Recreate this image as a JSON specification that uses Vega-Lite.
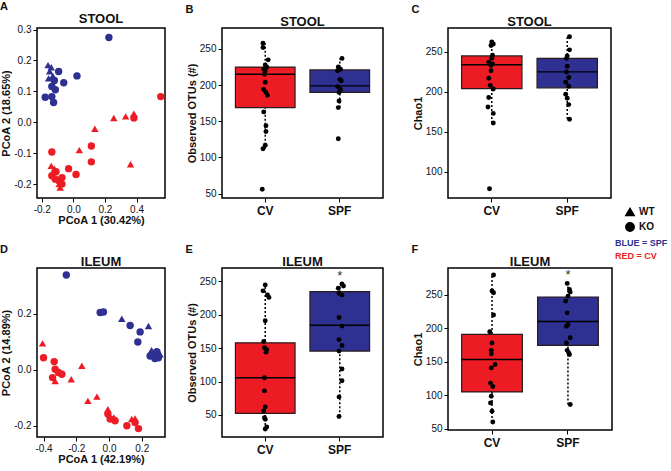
{
  "$schema": "https://vega.github.io/schema/vega-lite/v6.json",
  "padding": {"left": 0, "top": 0, "right": 0, "bottom": 0},
  "background": "white",
  "config": {
    "font": "Liberation Sans",
    "view": {"stroke": "black", "strokeWidth": 1.5},
    "axis": {"grid": false, "domain": false, "tickSize": 4, "tickColor": "black", "labelColor": "#111", "labelFontSize": 10, "titleFontSize": 11, "titleFontWeight": "bold", "titleColor": "#111", "labelPadding": 2, "titlePadding": 2},
    "axisX": {"titlePadding": 0},
    "title": {"fontSize": 13, "fontWeight": "bold", "offset": -1, "color": "#111"},
    "legend": {"labelFont": "Liberation Sans", "labelFontWeight": "bold", "labelFontSize": 10, "labelColor": "#111"}
  },
  "datasets": {
    "pA": [
      {"g": "SPF", "t": "KO", "pc1": 0.225, "pc2": 0.274},
      {"g": "SPF", "t": "KO", "pc1": 0.023, "pc2": 0.150},
      {"g": "SPF", "t": "KO", "pc1": -0.093, "pc2": 0.164},
      {"g": "SPF", "t": "KO", "pc1": -0.061, "pc2": 0.128},
      {"g": "SPF", "t": "KO", "pc1": -0.114, "pc2": 0.105},
      {"g": "SPF", "t": "KO", "pc1": -0.178, "pc2": 0.081},
      {"g": "SPF", "t": "KO", "pc1": -0.136, "pc2": 0.083},
      {"g": "SPF", "t": "KO", "pc1": -0.125, "pc2": 0.064},
      {"g": "SPF", "t": "KO", "pc1": -0.136, "pc2": 0.116},
      {"g": "SPF", "t": "KO", "pc1": -0.12, "pc2": 0.135},
      {"g": "SPF", "t": "WT", "pc1": -0.16, "pc2": 0.185},
      {"g": "SPF", "t": "WT", "pc1": -0.14, "pc2": 0.178},
      {"g": "SPF", "t": "WT", "pc1": -0.157, "pc2": 0.142},
      {"g": "SPF", "t": "WT", "pc1": -0.13, "pc2": 0.15},
      {"g": "SPF", "t": "WT", "pc1": -0.15, "pc2": 0.165},
      {"g": "CV", "t": "KO", "pc1": 0.553, "pc2": 0.083},
      {"g": "CV", "t": "KO", "pc1": 0.383, "pc2": 0.014},
      {"g": "CV", "t": "KO", "pc1": 0.114, "pc2": -0.077},
      {"g": "CV", "t": "KO", "pc1": 0.114, "pc2": -0.128},
      {"g": "CV", "t": "KO", "pc1": -0.136, "pc2": -0.096},
      {"g": "CV", "t": "KO", "pc1": -0.03, "pc2": -0.150},
      {"g": "CV", "t": "KO", "pc1": 0.017, "pc2": -0.169},
      {"g": "CV", "t": "KO", "pc1": -0.136, "pc2": -0.173},
      {"g": "CV", "t": "KO", "pc1": -0.114, "pc2": -0.184},
      {"g": "CV", "t": "KO", "pc1": -0.072, "pc2": -0.179},
      {"g": "CV", "t": "KO", "pc1": -0.072, "pc2": -0.200},
      {"g": "CV", "t": "KO", "pc1": -0.09, "pc2": -0.19},
      {"g": "CV", "t": "KO", "pc1": -0.11, "pc2": -0.16},
      {"g": "CV", "t": "WT", "pc1": 0.256, "pc2": 0.014},
      {"g": "CV", "t": "WT", "pc1": 0.331, "pc2": 0.019},
      {"g": "CV", "t": "WT", "pc1": 0.383, "pc2": 0.028},
      {"g": "CV", "t": "WT", "pc1": 0.136, "pc2": -0.021},
      {"g": "CV", "t": "WT", "pc1": 0.038, "pc2": -0.090},
      {"g": "CV", "t": "WT", "pc1": 0.362, "pc2": -0.136},
      {"g": "CV", "t": "WT", "pc1": -0.14, "pc2": -0.141},
      {"g": "CV", "t": "WT", "pc1": -0.12, "pc2": -0.15},
      {"g": "CV", "t": "WT", "pc1": -0.083, "pc2": -0.211},
      {"g": "CV", "t": "WT", "pc1": -0.09, "pc2": -0.2}
    ],
    "pD": [
      {"g": "SPF", "t": "KO", "pc1": -0.261, "pc2": 0.338},
      {"g": "SPF", "t": "KO", "pc1": -0.054, "pc2": 0.204},
      {"g": "SPF", "t": "KO", "pc1": -0.034, "pc2": 0.206},
      {"g": "SPF", "t": "KO", "pc1": 0.129, "pc2": 0.158},
      {"g": "SPF", "t": "KO", "pc1": 0.19, "pc2": 0.135},
      {"g": "SPF", "t": "KO", "pc1": 0.176, "pc2": 0.099},
      {"g": "SPF", "t": "KO", "pc1": 0.272, "pc2": 0.055},
      {"g": "SPF", "t": "KO", "pc1": 0.292, "pc2": 0.064},
      {"g": "SPF", "t": "KO", "pc1": 0.251, "pc2": 0.049},
      {"g": "SPF", "t": "KO", "pc1": 0.302, "pc2": 0.043},
      {"g": "SPF", "t": "KO", "pc1": 0.28, "pc2": 0.04},
      {"g": "SPF", "t": "WT", "pc1": 0.078, "pc2": 0.182},
      {"g": "SPF", "t": "WT", "pc1": 0.241, "pc2": 0.156},
      {"g": "SPF", "t": "WT", "pc1": 0.312, "pc2": 0.055},
      {"g": "SPF", "t": "WT", "pc1": 0.26, "pc2": 0.07},
      {"g": "CV", "t": "WT", "pc1": -0.406, "pc2": 0.094},
      {"g": "CV", "t": "WT", "pc1": -0.329, "pc2": -0.04},
      {"g": "CV", "t": "WT", "pc1": -0.166, "pc2": 0.014},
      {"g": "CV", "t": "WT", "pc1": -0.231, "pc2": -0.034},
      {"g": "CV", "t": "WT", "pc1": -0.129, "pc2": -0.111},
      {"g": "CV", "t": "WT", "pc1": -0.074, "pc2": -0.096},
      {"g": "CV", "t": "WT", "pc1": -0.007, "pc2": -0.141},
      {"g": "CV", "t": "WT", "pc1": 0.03, "pc2": -0.17},
      {"g": "CV", "t": "WT", "pc1": 0.139, "pc2": -0.176},
      {"g": "CV", "t": "WT", "pc1": 0.159, "pc2": -0.174},
      {"g": "CV", "t": "KO", "pc1": -0.4, "pc2": 0.043},
      {"g": "CV", "t": "KO", "pc1": -0.335, "pc2": 0.029},
      {"g": "CV", "t": "KO", "pc1": -0.329, "pc2": 0.002},
      {"g": "CV", "t": "KO", "pc1": -0.345, "pc2": -0.028},
      {"g": "CV", "t": "KO", "pc1": -0.309, "pc2": -0.01},
      {"g": "CV", "t": "KO", "pc1": -0.288, "pc2": -0.016},
      {"g": "CV", "t": "KO", "pc1": -0.007, "pc2": -0.158},
      {"g": "CV", "t": "KO", "pc1": 0.007, "pc2": -0.176},
      {"g": "CV", "t": "KO", "pc1": 0.037, "pc2": -0.182},
      {"g": "CV", "t": "KO", "pc1": 0.109, "pc2": -0.2},
      {"g": "CV", "t": "KO", "pc1": 0.159, "pc2": -0.188},
      {"g": "CV", "t": "KO", "pc1": 0.18, "pc2": -0.21}
    ],
    "bB": [
      {"g": "CV", "lo": 112, "q1": 169, "med": 215, "q3": 225, "hi": 258, "star": null, "sig": ""},
      {"g": "SPF", "lo": 169, "q1": 190, "med": 199, "q3": 221, "hi": 237, "star": null, "sig": ""}
    ],
    "bC": [
      {"g": "CV", "lo": 161, "q1": 204, "med": 234, "q3": 245, "hi": 263, "star": null, "sig": ""},
      {"g": "SPF", "lo": 166, "q1": 205, "med": 225, "q3": 242, "hi": 269, "star": null, "sig": ""}
    ],
    "bE": [
      {"g": "CV", "lo": 29, "q1": 52.5, "med": 105.8, "q3": 158, "hi": 245, "star": null, "sig": ""},
      {"g": "SPF", "lo": 48, "q1": 145.6, "med": 184.3, "q3": 234.7, "hi": 246, "star": 258, "sig": "*"}
    ],
    "bF": [
      {"g": "CV", "lo": 60, "q1": 104.9, "med": 153.3, "q3": 190.7, "hi": 279.5, "star": null, "sig": ""},
      {"g": "SPF", "lo": 86, "q1": 174.3, "med": 210, "q3": 246.7, "hi": 267, "star": 279, "sig": "*"}
    ],
    "sB": [
      {"g": "CV", "v": 258, "jx": 0.97}, {"g": "CV", "v": 252, "jx": 0.97}, {"g": "CV", "v": 235, "jx": 1.04},
      {"g": "CV", "v": 228, "jx": 1.0}, {"g": "CV", "v": 225, "jx": 1.02}, {"g": "CV", "v": 222, "jx": 0.98},
      {"g": "CV", "v": 220, "jx": 1.0}, {"g": "CV", "v": 215, "jx": 0.99}, {"g": "CV", "v": 204, "jx": 1.0},
      {"g": "CV", "v": 194, "jx": 0.98}, {"g": "CV", "v": 190, "jx": 1.01}, {"g": "CV", "v": 186, "jx": 1.03},
      {"g": "CV", "v": 163, "jx": 0.98}, {"g": "CV", "v": 144, "jx": 1.01}, {"g": "CV", "v": 136, "jx": 1.01},
      {"g": "CV", "v": 117, "jx": 1.0}, {"g": "CV", "v": 112, "jx": 0.97}, {"g": "CV", "v": 56, "jx": 0.96},
      {"g": "SPF", "v": 237, "jx": 2.03}, {"g": "SPF", "v": 225, "jx": 1.98}, {"g": "SPF", "v": 222, "jx": 2.01},
      {"g": "SPF", "v": 220, "jx": 1.97}, {"g": "SPF", "v": 208, "jx": 2.0}, {"g": "SPF", "v": 206, "jx": 2.02},
      {"g": "SPF", "v": 198, "jx": 1.97}, {"g": "SPF", "v": 194, "jx": 2.01}, {"g": "SPF", "v": 190, "jx": 1.99},
      {"g": "SPF", "v": 178, "jx": 1.99}, {"g": "SPF", "v": 169, "jx": 1.98}, {"g": "SPF", "v": 126, "jx": 1.98}
    ],
    "sC": [
      {"g": "CV", "v": 262.6, "jx": 1.0}, {"g": "CV", "v": 260, "jx": 1.02}, {"g": "CV", "v": 258, "jx": 0.99},
      {"g": "CV", "v": 246, "jx": 1.01}, {"g": "CV", "v": 242, "jx": 1.0}, {"g": "CV", "v": 237, "jx": 0.96},
      {"g": "CV", "v": 235, "jx": 1.01}, {"g": "CV", "v": 233, "jx": 0.99}, {"g": "CV", "v": 226.5, "jx": 0.99},
      {"g": "CV", "v": 217, "jx": 0.96}, {"g": "CV", "v": 208, "jx": 0.98}, {"g": "CV", "v": 203.5, "jx": 1.02},
      {"g": "CV", "v": 193, "jx": 0.96}, {"g": "CV", "v": 181, "jx": 0.95}, {"g": "CV", "v": 173, "jx": 1.02},
      {"g": "CV", "v": 161, "jx": 1.02}, {"g": "CV", "v": 78.6, "jx": 0.97},
      {"g": "SPF", "v": 269, "jx": 2.03}, {"g": "SPF", "v": 252.6, "jx": 2.03}, {"g": "SPF", "v": 245, "jx": 2.0},
      {"g": "SPF", "v": 242, "jx": 1.99}, {"g": "SPF", "v": 232, "jx": 2.0}, {"g": "SPF", "v": 225, "jx": 1.99},
      {"g": "SPF", "v": 218, "jx": 2.02}, {"g": "SPF", "v": 212, "jx": 1.98}, {"g": "SPF", "v": 207, "jx": 2.02},
      {"g": "SPF", "v": 197, "jx": 1.98}, {"g": "SPF", "v": 192, "jx": 2.0}, {"g": "SPF", "v": 184, "jx": 2.02},
      {"g": "SPF", "v": 165.6, "jx": 2.03}
    ],
    "sE": [
      {"g": "CV", "v": 244.7, "jx": 1.0}, {"g": "CV", "v": 235.8, "jx": 0.97}, {"g": "CV", "v": 229.7, "jx": 1.03},
      {"g": "CV", "v": 226, "jx": 1.05}, {"g": "CV", "v": 191, "jx": 1.0}, {"g": "CV", "v": 160, "jx": 0.98},
      {"g": "CV", "v": 150.6, "jx": 0.99}, {"g": "CV", "v": 147.7, "jx": 1.02}, {"g": "CV", "v": 144, "jx": 1.01},
      {"g": "CV", "v": 105.8, "jx": 0.99}, {"g": "CV", "v": 86, "jx": 0.99}, {"g": "CV", "v": 62, "jx": 1.0},
      {"g": "CV", "v": 56, "jx": 0.98}, {"g": "CV", "v": 46, "jx": 0.99}, {"g": "CV", "v": 43.5, "jx": 1.0},
      {"g": "CV", "v": 32, "jx": 1.02}, {"g": "CV", "v": 29, "jx": 1.0},
      {"g": "SPF", "v": 246, "jx": 2.03}, {"g": "SPF", "v": 243, "jx": 2.05}, {"g": "SPF", "v": 239.7, "jx": 1.98},
      {"g": "SPF", "v": 232, "jx": 1.99}, {"g": "SPF", "v": 229.7, "jx": 2.03}, {"g": "SPF", "v": 196, "jx": 1.99},
      {"g": "SPF", "v": 183, "jx": 2.03}, {"g": "SPF", "v": 162.8, "jx": 1.99}, {"g": "SPF", "v": 154, "jx": 2.03},
      {"g": "SPF", "v": 145.6, "jx": 1.99}, {"g": "SPF", "v": 118.9, "jx": 2.03}, {"g": "SPF", "v": 101.3, "jx": 2.03},
      {"g": "SPF", "v": 77, "jx": 1.99}, {"g": "SPF", "v": 47.8, "jx": 1.99}
    ],
    "sF": [
      {"g": "CV", "v": 279.5, "jx": 1.02}, {"g": "CV", "v": 255.6, "jx": 1.0}, {"g": "CV", "v": 253, "jx": 1.02},
      {"g": "CV", "v": 219.7, "jx": 1.02}, {"g": "CV", "v": 194.7, "jx": 0.97}, {"g": "CV", "v": 178, "jx": 1.0},
      {"g": "CV", "v": 167, "jx": 0.99}, {"g": "CV", "v": 161.8, "jx": 0.99}, {"g": "CV", "v": 145.8, "jx": 1.04},
      {"g": "CV", "v": 140.8, "jx": 0.99}, {"g": "CV", "v": 118, "jx": 0.98}, {"g": "CV", "v": 113, "jx": 1.01},
      {"g": "CV", "v": 98.4, "jx": 0.99}, {"g": "CV", "v": 88.5, "jx": 0.98}, {"g": "CV", "v": 76, "jx": 1.0},
      {"g": "CV", "v": 60, "jx": 1.01},
      {"g": "SPF", "v": 267, "jx": 1.99}, {"g": "SPF", "v": 258, "jx": 2.02}, {"g": "SPF", "v": 254, "jx": 2.03},
      {"g": "SPF", "v": 248, "jx": 2.0}, {"g": "SPF", "v": 240.7, "jx": 1.97}, {"g": "SPF", "v": 223, "jx": 1.99},
      {"g": "SPF", "v": 205.7, "jx": 2.0}, {"g": "SPF", "v": 203, "jx": 1.98}, {"g": "SPF", "v": 185.8, "jx": 2.03},
      {"g": "SPF", "v": 178, "jx": 1.98}, {"g": "SPF", "v": 167, "jx": 1.99}, {"g": "SPF", "v": 163, "jx": 2.01},
      {"g": "SPF", "v": 160.8, "jx": 2.02}, {"g": "SPF", "v": 86, "jx": 2.03}
    ]
  },
  "spacing": 18,
  "vconcat": [
    {
      "spacing": 19,
      "hconcat": [
        {
          "title": {"text": "A", "anchor": "start", "frame": "bounds", "fontSize": 11, "offset": 0},
          "vconcat": [
            {
              "title": "STOOL",
              "width": 128, "height": 170,
              "data": {"name": "pA"},
              "mark": {"type": "point", "filled": true, "opacity": 1, "size": 55},
              "encoding": {
                "x": {"field": "pc1", "type": "quantitative", "scale": {"domain": [-0.23, 0.58], "nice": false, "zero": false}, "axis": {"values": [-0.2, 0, 0.2, 0.4], "title": "PCoA 1 (30.42%)", "labelExpr": "replace(format(datum.value, '.1f'), '\u2212', '-')"}},
                "y": {"field": "pc2", "type": "quantitative", "scale": {"domain": [-0.245, 0.305], "nice": false, "zero": false}, "axis": {"values": [-0.2, -0.1, 0, 0.1, 0.2, 0.3], "title": "PCoA 2 (18.65%)", "labelExpr": "replace(format(datum.value, '.1f'), '\u2212', '-')"}},
                "color": {"field": "g", "type": "nominal", "scale": {"domain": ["SPF", "CV"], "range": ["#2e3192", "#ed1c24"]}, "legend": {"orient": "none", "legendX": 569, "legendY": 210, "title": null, "symbolSize": 0, "symbolOpacity": 0, "symbolStrokeWidth": 0, "labelOffset": 0, "labelFontSize": 9, "rowPadding": 3, "labelExpr": "datum.value === 'SPF' ? 'BLUE = SPF' : 'RED = CV'", "encode": {"labels": {"update": {"fill": {"signal": "datum.value === 'SPF' ? '#2e3192' : '#ed1c24'"}}}}}},
                "shape": {"field": "t", "type": "nominal", "scale": {"domain": ["WT", "KO"], "range": ["triangle-up", "circle"]}, "legend": {"orient": "none", "legendX": 588, "legendY": 179, "title": null, "symbolSize": 70, "rowPadding": 0, "symbolFillColor": "black", "symbolStrokeColor": "black", "encode": {"symbols": {"update": {"fill": {"value": "black"}, "stroke": {"value": "black"}}}}}}
              }
            }
          ]
        },
        {
          "spacing": 27,
          "hconcat": [
            {
              "title": {"text": "B", "anchor": "start", "frame": "bounds", "fontSize": 11, "offset": 0},
              "vconcat": [
                {
                  "title": "STOOL",
                  "width": 161, "height": 170,
                  "layer": [
                    {
                      "data": {"name": "bB"},
                      "layer": [
                        {"mark": {"type": "rule", "strokeDash": [2, 2], "strokeWidth": 1.5, "color": "black"},
                         "encoding": {"x": {"field": "g", "type": "nominal", "scale": {"type": "band", "domain": ["CV", "SPF"], "paddingInner": 0.2, "paddingOuter": 0.18}, "axis": {"title": null, "labelAngle": 0, "labelFontWeight": "bold", "labelFontSize": 12, "labelPadding": 3}},
                                      "y": {"field": "lo", "type": "quantitative", "scale": {"domain": [44, 279], "nice": false, "zero": false}, "axis": {"values": [50, 100, 150, 200, 250], "title": "Observed OTUs (#)"}},
                                      "y2": {"field": "hi"}}},
                        {"mark": {"type": "bar", "stroke": "#2a1a1a", "strokeWidth": 1.2, "opacity": 1},
                         "encoding": {"x": {"field": "g", "type": "nominal"},
                                      "y": {"field": "q1", "type": "quantitative"},
                                      "y2": {"field": "q3"},
                                      "color": {"field": "g", "type": "nominal", "scale": {"domain": ["SPF", "CV"], "range": ["#2e3192", "#ed1c24"]}, "legend": {"orient": "none", "legendX": 569, "legendY": 210, "title": null, "symbolSize": 0, "symbolOpacity": 0, "symbolStrokeWidth": 0, "labelOffset": 0, "labelFontSize": 9, "rowPadding": 3, "labelExpr": "datum.value === 'SPF' ? 'BLUE = SPF' : 'RED = CV'", "encode": {"labels": {"update": {"fill": {"signal": "datum.value === 'SPF' ? '#2e3192' : '#ed1c24'"}}}}}}}},
                        {"mark": {"type": "bar", "fill": "black", "stroke": "black", "strokeWidth": 1.4},
                         "encoding": {"x": {"field": "g", "type": "nominal"},
                                      "y": {"field": "med", "type": "quantitative"},
                                      "y2": {"field": "med"}}}
                      ]
                    },
                    {
                      "data": {"name": "sB"},
                      "mark": {"type": "circle", "color": "black", "size": 24, "opacity": 1},
                      "encoding": {"x": {"field": "jx", "type": "quantitative", "scale": {"domain": [0.42, 2.58], "nice": false, "zero": false}, "axis": null},
                                   "y": {"field": "v", "type": "quantitative"}}
                    }
                  ],
                  "resolve": {"scale": {"x": "independent"}}
                }
              ]
            },
            {
              "title": {"text": "C", "anchor": "start", "frame": "bounds", "fontSize": 11, "offset": 0},
              "vconcat": [
                {
                  "title": "STOOL",
                  "width": 163, "height": 170,
                  "layer": [
                    {
                      "data": {"name": "bC"},
                      "layer": [
                        {"mark": {"type": "rule", "strokeDash": [2, 2], "strokeWidth": 1.5, "color": "black"},
                         "encoding": {"x": {"field": "g", "type": "nominal", "scale": {"type": "band", "domain": ["CV", "SPF"], "paddingInner": 0.2, "paddingOuter": 0.18}, "axis": {"title": null, "labelAngle": 0, "labelFontWeight": "bold", "labelFontSize": 12, "labelPadding": 3}},
                                      "y": {"field": "lo", "type": "quantitative", "scale": {"domain": [67, 280], "nice": false, "zero": false}, "axis": {"values": [100, 150, 200, 250], "title": "Chao1"}},
                                      "y2": {"field": "hi"}}},
                        {"mark": {"type": "bar", "stroke": "#2a1a1a", "strokeWidth": 1.2, "opacity": 1},
                         "encoding": {"x": {"field": "g", "type": "nominal"},
                                      "y": {"field": "q1", "type": "quantitative"},
                                      "y2": {"field": "q3"},
                                      "color": {"field": "g", "type": "nominal", "scale": {"domain": ["SPF", "CV"], "range": ["#2e3192", "#ed1c24"]}, "legend": {"orient": "none", "legendX": 569, "legendY": 210, "title": null, "symbolSize": 0, "symbolOpacity": 0, "symbolStrokeWidth": 0, "labelOffset": 0, "labelFontSize": 9, "rowPadding": 3, "labelExpr": "datum.value === 'SPF' ? 'BLUE = SPF' : 'RED = CV'", "encode": {"labels": {"update": {"fill": {"signal": "datum.value === 'SPF' ? '#2e3192' : '#ed1c24'"}}}}}}}},
                        {"mark": {"type": "bar", "fill": "black", "stroke": "black", "strokeWidth": 1.4},
                         "encoding": {"x": {"field": "g", "type": "nominal"},
                                      "y": {"field": "med", "type": "quantitative"},
                                      "y2": {"field": "med"}}}
                      ]
                    },
                    {
                      "data": {"name": "sC"},
                      "mark": {"type": "circle", "color": "black", "size": 24, "opacity": 1},
                      "encoding": {"x": {"field": "jx", "type": "quantitative", "scale": {"domain": [0.42, 2.58], "nice": false, "zero": false}, "axis": null},
                                   "y": {"field": "v", "type": "quantitative"}}
                    }
                  ],
                  "resolve": {"scale": {"x": "independent"}}
                }
              ]
            }
          ]
        }
      ]
    },
    {
      "spacing": 19,
      "hconcat": [
        {
          "title": {"text": "D", "anchor": "start", "frame": "bounds", "fontSize": 11, "offset": 0},
          "vconcat": [
            {
              "title": "ILEUM",
              "width": 128, "height": 169,
              "data": {"name": "pD"},
              "mark": {"type": "point", "filled": true, "opacity": 1, "size": 55},
              "encoding": {
                "x": {"field": "pc1", "type": "quantitative", "scale": {"domain": [-0.44, 0.342], "nice": false, "zero": false}, "axis": {"values": [-0.4, -0.2, 0, 0.2], "title": "PCoA 1 (42.19%)", "labelExpr": "replace(format(datum.value, '.1f'), '\u2212', '-')"}},
                "y": {"field": "pc2", "type": "quantitative", "scale": {"domain": [-0.24, 0.363], "nice": false, "zero": false}, "axis": {"values": [-0.2, 0, 0.2], "title": "PCoA 2 (14.89%)", "labelExpr": "replace(format(datum.value, '.1f'), '\u2212', '-')"}},
                "color": {"field": "g", "type": "nominal", "scale": {"domain": ["SPF", "CV"], "range": ["#2e3192", "#ed1c24"]}, "legend": {"orient": "none", "legendX": 569, "legendY": 210, "title": null, "symbolSize": 0, "symbolOpacity": 0, "symbolStrokeWidth": 0, "labelOffset": 0, "labelFontSize": 9, "rowPadding": 3, "labelExpr": "datum.value === 'SPF' ? 'BLUE = SPF' : 'RED = CV'", "encode": {"labels": {"update": {"fill": {"signal": "datum.value === 'SPF' ? '#2e3192' : '#ed1c24'"}}}}}},
                "shape": {"field": "t", "type": "nominal", "scale": {"domain": ["WT", "KO"], "range": ["triangle-up", "circle"]}, "legend": {"orient": "none", "legendX": 588, "legendY": 179, "title": null, "symbolSize": 70, "rowPadding": 0, "symbolFillColor": "black", "symbolStrokeColor": "black", "encode": {"symbols": {"update": {"fill": {"value": "black"}, "stroke": {"value": "black"}}}}}}
              }
            }
          ]
        },
        {
          "spacing": 27,
          "hconcat": [
            {
              "title": {"text": "E", "anchor": "start", "frame": "bounds", "fontSize": 11, "offset": 0},
              "vconcat": [
                {
                  "title": "ILEUM",
                  "width": 161, "height": 169,
                  "layer": [
                    {
                      "data": {"name": "bE"},
                      "layer": [
                        {"mark": {"type": "rule", "strokeDash": [2, 2], "strokeWidth": 1.5, "color": "black"},
                         "encoding": {"x": {"field": "g", "type": "nominal", "scale": {"type": "band", "domain": ["CV", "SPF"], "paddingInner": 0.2, "paddingOuter": 0.18}, "axis": {"title": null, "labelAngle": 0, "labelFontWeight": "bold", "labelFontSize": 12, "labelPadding": 3}},
                                      "y": {"field": "lo", "type": "quantitative", "scale": {"domain": [17, 270], "nice": false, "zero": false}, "axis": {"values": [50, 100, 150, 200, 250], "title": "Observed OTUs (#)"}},
                                      "y2": {"field": "hi"}}},
                        {"mark": {"type": "bar", "stroke": "#2a1a1a", "strokeWidth": 1.2, "opacity": 1},
                         "encoding": {"x": {"field": "g", "type": "nominal"},
                                      "y": {"field": "q1", "type": "quantitative"},
                                      "y2": {"field": "q3"},
                                      "color": {"field": "g", "type": "nominal", "scale": {"domain": ["SPF", "CV"], "range": ["#2e3192", "#ed1c24"]}, "legend": {"orient": "none", "legendX": 569, "legendY": 210, "title": null, "symbolSize": 0, "symbolOpacity": 0, "symbolStrokeWidth": 0, "labelOffset": 0, "labelFontSize": 9, "rowPadding": 3, "labelExpr": "datum.value === 'SPF' ? 'BLUE = SPF' : 'RED = CV'", "encode": {"labels": {"update": {"fill": {"signal": "datum.value === 'SPF' ? '#2e3192' : '#ed1c24'"}}}}}}}},
                        {"mark": {"type": "bar", "fill": "black", "stroke": "black", "strokeWidth": 1.4},
                         "encoding": {"x": {"field": "g", "type": "nominal"},
                                      "y": {"field": "med", "type": "quantitative"},
                                      "y2": {"field": "med"}}},
                        {"transform": [{"filter": "datum.star != null"}],
                         "mark": {"type": "text", "fontSize": 13, "baseline": "middle", "color": "#333"},
                         "encoding": {"x": {"field": "g", "type": "nominal"},
                                      "y": {"field": "star", "type": "quantitative"},
                                      "text": {"field": "sig"}}}
                      ]
                    },
                    {
                      "data": {"name": "sE"},
                      "mark": {"type": "circle", "color": "black", "size": 24, "opacity": 1},
                      "encoding": {"x": {"field": "jx", "type": "quantitative", "scale": {"domain": [0.42, 2.58], "nice": false, "zero": false}, "axis": null},
                                   "y": {"field": "v", "type": "quantitative"}}
                    }
                  ],
                  "resolve": {"scale": {"x": "independent"}}
                }
              ]
            },
            {
              "title": {"text": "F", "anchor": "start", "frame": "bounds", "fontSize": 11, "offset": 0},
              "vconcat": [
                {
                  "title": "ILEUM",
                  "width": 164, "height": 162,
                  "layer": [
                    {
                      "data": {"name": "bF"},
                      "layer": [
                        {"mark": {"type": "rule", "strokeDash": [2, 2], "strokeWidth": 1.5, "color": "black"},
                         "encoding": {"x": {"field": "g", "type": "nominal", "scale": {"type": "band", "domain": ["CV", "SPF"], "paddingInner": 0.2, "paddingOuter": 0.18}, "axis": {"title": null, "labelAngle": 0, "labelFontWeight": "bold", "labelFontSize": 12, "labelPadding": 3}},
                                      "y": {"field": "lo", "type": "quantitative", "scale": {"domain": [48, 290], "nice": false, "zero": false}, "axis": {"values": [50, 100, 150, 200, 250], "title": "Chao1"}},
                                      "y2": {"field": "hi"}}},
                        {"mark": {"type": "bar", "stroke": "#2a1a1a", "strokeWidth": 1.2, "opacity": 1},
                         "encoding": {"x": {"field": "g", "type": "nominal"},
                                      "y": {"field": "q1", "type": "quantitative"},
                                      "y2": {"field": "q3"},
                                      "color": {"field": "g", "type": "nominal", "scale": {"domain": ["SPF", "CV"], "range": ["#2e3192", "#ed1c24"]}, "legend": {"orient": "none", "legendX": 569, "legendY": 210, "title": null, "symbolSize": 0, "symbolOpacity": 0, "symbolStrokeWidth": 0, "labelOffset": 0, "labelFontSize": 9, "rowPadding": 3, "labelExpr": "datum.value === 'SPF' ? 'BLUE = SPF' : 'RED = CV'", "encode": {"labels": {"update": {"fill": {"signal": "datum.value === 'SPF' ? '#2e3192' : '#ed1c24'"}}}}}}}},
                        {"mark": {"type": "bar", "fill": "black", "stroke": "black", "strokeWidth": 1.4},
                         "encoding": {"x": {"field": "g", "type": "nominal"},
                                      "y": {"field": "med", "type": "quantitative"},
                                      "y2": {"field": "med"}}},
                        {"transform": [{"filter": "datum.star != null"}],
                         "mark": {"type": "text", "fontSize": 13, "baseline": "middle", "color": "#333"},
                         "encoding": {"x": {"field": "g", "type": "nominal"},
                                      "y": {"field": "star", "type": "quantitative"},
                                      "text": {"field": "sig"}}}
                      ]
                    },
                    {
                      "data": {"name": "sF"},
                      "mark": {"type": "circle", "color": "black", "size": 24, "opacity": 1},
                      "encoding": {"x": {"field": "jx", "type": "quantitative", "scale": {"domain": [0.42, 2.58], "nice": false, "zero": false}, "axis": null},
                                   "y": {"field": "v", "type": "quantitative"}}
                    }
                  ],
                  "resolve": {"scale": {"x": "independent"}}
                }
              ]
            }
          ]
        }
      ]
    }
  ]
}
